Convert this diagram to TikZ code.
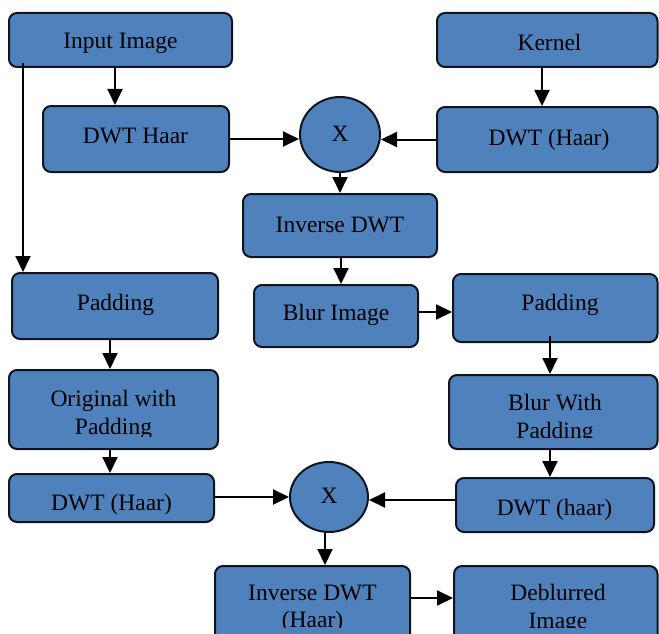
\documentclass[tikz,border=0pt]{standalone}
\usepackage{fontspec}
\setmainfont{Liberation Serif}
\usetikzlibrary{arrows.meta,shapes.geometric,calc}
\definecolor{boxblue}{RGB}{79,129,189}
\definecolor{edge}{RGB}{15,20,30}
\tikzset{
  box/.style={draw=edge, fill=boxblue, line width=2pt, rounded corners=8pt, inner sep=0pt},
  ell/.style={ellipse, draw=edge, fill=boxblue, line width=2pt, inner sep=0pt, font=\fontsize{23.5}{27.5}\selectfont},
  txt/.style={inner sep=0pt, align=center, font=\fontsize{23.5}{27.5}\selectfont},
  arr/.style={line width=2pt, -{Triangle[length=16pt,width=15pt]}}
}
\begin{document}
\begin{tikzpicture}[x=1pt,y=-1pt]
\useasboundingbox (0,0) rectangle (659,634);
% boxes
\node[box, minimum width=223, minimum height=54] (in) at (120.5,40) {};
\node[box, minimum width=186, minimum height=66] (dwth) at (136,139) {};
\node[box, minimum width=220.5, minimum height=54] (ker) at (547.25,40) {};
\node[box, minimum width=220.5, minimum height=65] (dwtk) at (547.25,139.5) {};
\node[ell, minimum width=80, minimum height=75] (x1) at (340,134.5) {\raisebox{2pt}{X}};
\node[box, minimum width=194, minimum height=63] (inv) at (340,225.5) {};
\node[box, minimum width=164, minimum height=62] (blur) at (336,316) {};
\node[box, minimum width=204.5, minimum height=68] (padr) at (555.25,308) {};
\node[box, minimum width=206, minimum height=66] (padl) at (115,306) {};
\node[box, minimum width=209, minimum height=79] (orig) at (113.5,409.5) {};
\node[box, minimum width=205, minimum height=48] (dwtl) at (111.5,498) {};
\node[ell, minimum width=78, minimum height=70] (x2) at (329,497) {\raisebox{2pt}{X}};
\node[box, minimum width=208.5, minimum height=74] (bwp) at (553.25,412) {};
\node[box, minimum width=198, minimum height=54] (dwtr) at (555,505) {};
\node[box, minimum width=195, minimum height=94] (invh) at (312.5,613) {};
\node[box, minimum width=203.5, minimum height=94] (deb) at (555.75,613) {};
% texts
\node[txt] (tin) at (120.5,43) {Input Image};
\node[txt] (tdwth) at (135.5,135.5) {DWT Haar};
\node[txt] (tker) at (549.5,42) {Kernel};
\node[txt] (tdwtk) at (549,139.5) {DWT (Haar)};
\node[txt] (tinv) at (340,224.5) {Inverse DWT};
\node[txt] (tblur) at (336,315) {Blur Image};
\node[txt] (tpadr) at (560,304.5) {Padding};
\node[txt] (tpadl) at (115.5,304.5) {Padding};
\begin{scope}
\clip (9,370) rectangle (218,436);
\node[txt] (torig) at (113.5,415) {Original with\\Padding};
\end{scope}
\begin{scope}
\clip (9,474) rectangle (214,513);
\node[txt] (tdwtl) at (111.5,505) {DWT (Haar)};
\end{scope}
\begin{scope}
\clip (449,375) rectangle (657,437);
\node[txt] (tbwp) at (555,419) {Blur With\\Padding};
\end{scope}
\node[txt] (tdwtr) at (554.5,509.5) {DWT (haar)};
\begin{scope}
\clip (215,566) rectangle (410,627);
\node[txt] (tinvh) at (312.5,609) {Inverse DWT\\(Haar)};
\end{scope}
\begin{scope}
\clip (454,566) rectangle (657,627);
\node[txt] (tdeb) at (558,609) {Deblurred\\Image};
\end{scope}
% connectors
\draw[arr] (in.south -| 115,0) -- (dwth.north -| 115,0);
\draw[arr] ($(in.south -| 23,0)+(0,-5)$) -- (padl.north -| 23,0);
\draw[arr] (dwth.east) -- (dwth.east -| x1.west);
\draw[arr] (ker.south -| 542,0) -- (dwtk.north -| 542,0);
\draw[arr] (dwtk.west) -- (dwtk.west -| x1.east);
\draw[arr] (x1.south) -- (inv.north -| x1.south);
\draw[arr] (inv.south -| 341,0) -- (blur.north -| 341,0);
\draw[arr] (blur.east |- 0,312) -- (padr.west |- 0,312);
\draw[arr] (padl.south -| 110,0) -- (orig.north -| 110,0);
\draw[arr] (orig.south -| 110,0) -- (dwtl.north -| 110,0);
\draw[arr] (dwtl.east |- 0,497) -- (x2.west);
\draw[arr] ($(padr.south -| 550,0)+(0,-7)$) -- (bwp.north -| 550,0);
\draw[arr] (bwp.south -| 550,0) -- (dwtr.north -| 550,0);
\draw[arr] (dwtr.west |- 0,500) -- (x2.east |- 0,500);
\draw[arr] (x2.south -| 325,0) -- (invh.north -| 325,0);
\draw[arr] (invh.east |- 0,598) -- (deb.west |- 0,598);
\end{tikzpicture}
\end{document}
